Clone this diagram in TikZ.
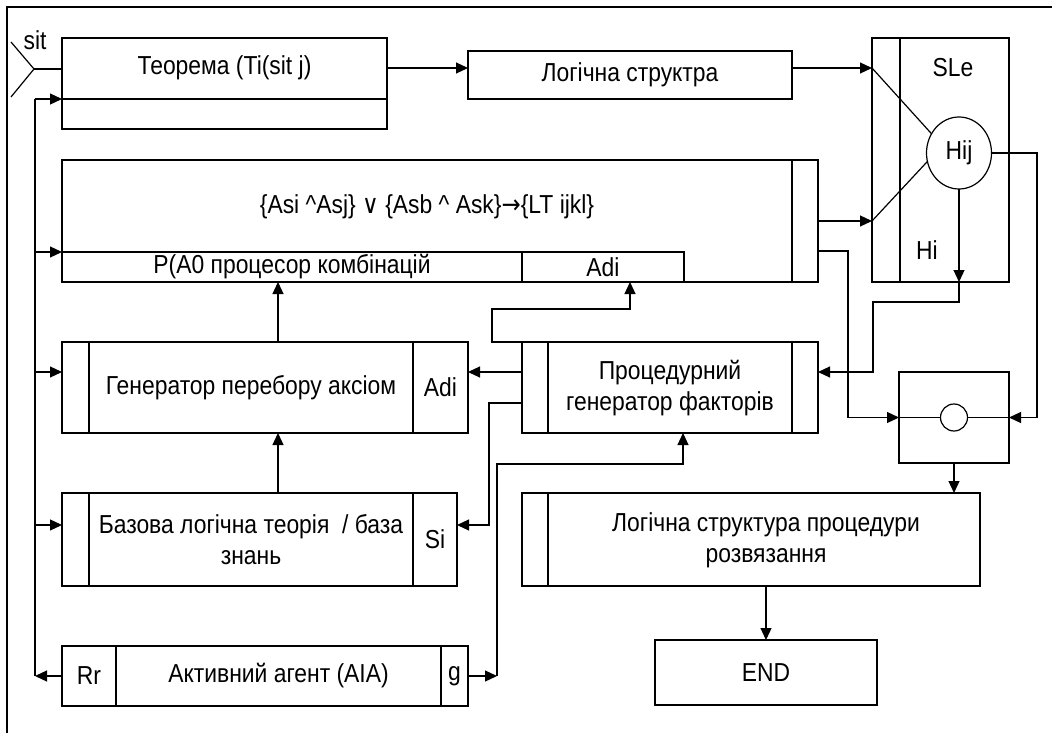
\documentclass[tikz,border=0pt]{standalone}
\usepackage{fontspec}
\setmainfont{Liberation Sans}[FakeStretch=0.88]
\newfontfamily\symfont{DejaVu Sans}[FakeStretch=0.88]
\usetikzlibrary{arrows.meta,shapes.geometric,calc}

\begin{document}
\begin{tikzpicture}[x=1pt,y=-1pt,
  every node/.style={font=\fontsize{26}{31}\selectfont, inner sep=0pt, outer sep=0pt},
  cell/.style={draw, line width=1.2pt, rectangle, inner sep=0pt},
  wire/.style={line width=1.2pt},
  arr/.style={wire, -{Triangle[length=12pt,width=11pt]}},
  txt/.style={align=center},
]
\useasboundingbox (0,0) rectangle (1052,733);

% outer frame
\draw[wire] (7,733) -- (7,7) -- (1052,7);

% ---- blocks ----
% theorem
\node[cell, minimum width=325pt, minimum height=91pt] (th) at (224.5,83.5) {};
\node[cell, minimum width=325pt, minimum height=30pt] (thlow) at (224.5,114) {};
\node[txt] (thT) at (224.5,68) {Теорема (Ti(sit j)};

% logical structure
\node[cell, minimum width=324pt, minimum height=48pt] (ls) at (630,75) {Логічна структра};

% SLe block
\node[cell, minimum width=137pt, minimum height=244pt] (sle) at (940.5,160) {};
\node[cell, minimum width=28pt, minimum height=244pt] (sleL) at (886,160) {};
\node (sleT) at (953,68) {SLe};
\node (hiT) at (927,250) {Hi};
\node[draw, line width=1.2pt, ellipse, minimum width=65pt, minimum height=72pt] (hij) at (959,153) {Hij};

% combination processor
\node[cell, minimum width=756pt, minimum height=122pt] (form) at (440,221) {};
\node[cell, minimum width=26pt, minimum height=122pt] (formR) at (805,221) {};
\node[cell, minimum width=460pt, minimum height=30pt] (fp) at (292,267) {P(A0 процесор комбінацій};
\node[cell, minimum width=162pt, minimum height=30pt] (fadi) at (603,267) {Adi};
\node[txt] (formT) at (427,207) {\{Asi \textasciicircum Asj\} {\symfont ∨} \{Asb \textasciicircum\ Ask\}{\symfont →}\{LT ijkl\}};

% axiom generator
\node[cell, minimum width=406pt, minimum height=91pt] (gen) at (265,387.5) {};
\node[cell, minimum width=27pt, minimum height=91pt] (genL) at (75.5,387.5) {};
\node[cell, minimum width=55pt, minimum height=91pt] (genAdi) at (440.5,387.5) {Adi};
\node[txt] (genT) at (251,387.5) {Генератор перебору аксіом};

% procedural generator
\node[cell, minimum width=296pt, minimum height=91pt] (proc) at (670,387.5) {};
\node[cell, minimum width=26pt, minimum height=91pt] (procL) at (535,387.5) {};
\node[cell, minimum width=26pt, minimum height=91pt] (procR) at (805,387.5) {};
\node[txt] (procT) at (670,388) {Процедурний\\генератор факторів};

% base theory
\node[cell, minimum width=395pt, minimum height=93pt] (base) at (259.5,539.5) {};
\node[cell, minimum width=27pt, minimum height=93pt] (baseL) at (75.5,539.5) {};
\node[cell, minimum width=44pt, minimum height=93pt] (baseSi) at (435,539.5) {Si};
\node[txt] (baseT) at (251,540) {Базова логічна теорія~ / база\\знань};

% active agent
\node[cell, minimum width=406pt, minimum height=60pt] (agent) at (265,676) {};
\node[cell, minimum width=54pt, minimum height=60pt] (agentRr) at (89,676) {Rr};
\node[cell, minimum width=27pt, minimum height=60pt] (agentG) at (454.5,676) {g};
\node[txt] (agentT) at (278.5,676) {Активний агент (AIA)};

% comparison block
\node[cell, minimum width=110pt, minimum height=91pt] (cbox) at (954,417.5) {};
\node[draw, line width=1.2pt, ellipse, minimum width=27pt, minimum height=27pt] (dot) at (954,417.5) {};

% resulting structure
\node[cell, minimum width=458pt, minimum height=93pt] (fin) at (751,539.5) {};
\node[cell, minimum width=26pt, minimum height=93pt] (finL) at (535,539.5) {};
\node[txt] (finT) at (766,540) {Логічна структура процедури\\розвязання};

% end
\node[cell, minimum width=222pt, minimum height=65pt] (end) at (766,672.5) {END};

% ---- helper coordinates ----
\coordinate (lvl) at (0,68);
\coordinate (rowB) at (0,372);
\coordinate (rowC) at (0,525);
\coordinate (busTop) at (35,99);
\coordinate (busBot) at (35,676);
\coordinate (sitTip) at (34,69);
\coordinate (colA) at (278,0);
\coordinate (colAdi) at (630,0);
\coordinate (colEnd) at (766,0);
\coordinate (gUp) at (497,676);

% ---- input ----
\node (sitT) at (35,40) {sit};
\draw[wire] (11,42) -- (sitTip) -- (11,97);
\draw[wire] (sitTip) -- (sitTip -| th.west);

% ---- connectors ----
\draw[arr] (th.east |- lvl) -- (ls.west |- lvl);
\draw[arr] (ls.east |- lvl) -- (sle.west |- lvl);
\draw[wire] (sle.west |- lvl) -- (hij.145);
\draw[arr] (formR.east) -- (formR.east -| sle.west);
\draw[wire] (formR.east -| sle.west) -- (hij.195);

\coordinate (hiEnd) at (hij.south |- sle.south);
\draw[arr] (hij.south) -- (hiEnd);
\draw[arr] (hiEnd) -- ++(0,20) -- (873,302) -- (873,372) -- (procR.east |- rowB);
\draw[arr] (hij.east) -- ++(45.5,0) |- (cbox.east);
\draw[arr] (formR.east |- 0,251) -- (848,251) |- (cbox.west);
\draw[wire] (cbox.west) -- (dot.west);
\draw[wire] (dot.east) -- (cbox.east);
\draw[arr] (cbox.south) -- (cbox.south |- fin.north);
\draw[arr] (fin.south -| colEnd) -- (end.north -| colEnd);

% left feedback bus
\draw[wire] (busTop) -- (busBot);
\draw[arr] (busTop) -- (busTop -| thlow.west);
\draw[arr] (busTop |- fp.west) ++(0,-15) -- (fp.west |- 0,252);
\draw[arr] (busTop |- rowB) -- (genL.west |- rowB);
\draw[arr] (busTop |- rowC) -- (baseL.west |- rowC);
\draw[arr] (agentRr.west) -- (busBot);

% vertical flow in the left column
\draw[arr] (gen.north -| colA) -- (fp.south -| colA);
\draw[arr] (base.north -| colA) -- (gen.south -| colA);

% procedural generator outputs
\draw[arr] (procL.west |- rowB) -- (genAdi.east |- rowB);
\draw[arr] (procL.north west) -- ++(-30,0) -- ++(0,-33) -| (fadi.south -| colAdi);
\draw[arr] (procL.west |- 0,403) -- (489,403) |- (baseSi.east |- rowC);

% agent goal feeds the procedural generator
\draw[arr] (agentG.east) -- (gUp);
\draw[arr] (gUp) |- (683,464) -- (proc.south -| 683,0);
\end{tikzpicture}
\end{document}
